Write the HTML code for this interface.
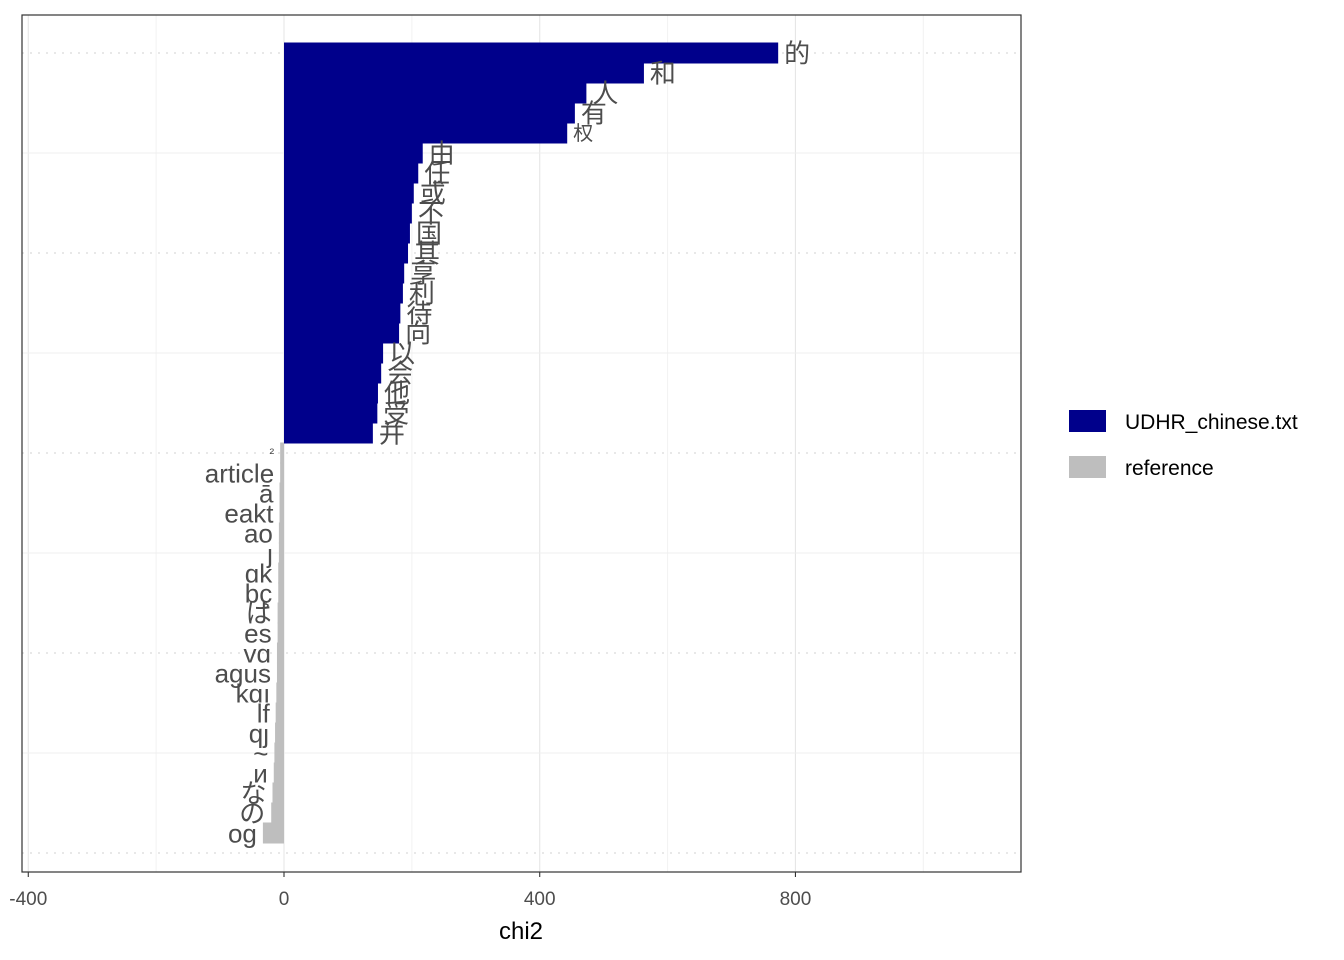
<!DOCTYPE html>
<html><head><meta charset="utf-8">
<style>
html,body{margin:0;padding:0;background:#fff;}
svg{display:block;font-family:"Liberation Sans","Noto Sans CJK SC",sans-serif;}
</style></head>
<body>
<svg id="chart" width="1344" height="960"></svg>
<script>
const targetLabels=["的","和","人","有","权","由","任","或","不","国","其","享","利","待","向","以","会","他","受","并"];
const targetValues=[773,563,473,455,443,217,210,203,200,197,194,188,186,182,180,155,152,147,146,139];
const targetSizes=[26,26,26,26,20,26,26,26,26,26,26,26,26,26,26,26,26,26,26,26];
const refLabels=["²","article","ā","eakt","ao","ȷ","ɑk","bç","は","es","vɑ","agus","kɑı","lf","qȷ","~","и","な","の","og"];
const refValues=[-6,-6,-7,-7,-8,-8,-9,-9,-10,-10,-11,-11,-12,-13,-14,-15,-16,-18,-20,-33];
const refSizes=[14,26,26,26,26,26,26,26,26,26,26,26,26,26,26,26,26,26,26,26];
const xTicks=[-400,0,400,800];
const xMinor=[-200,200,600,1000];

const NS="http://www.w3.org/2000/svg";
const svg=document.getElementById('chart');
const P={l:22,r:1021,t:15,b:872};
const x=v=>284+v*0.6393;
const y=pos=>853-pos*20; // pos 0..40, row1 at pos 40
function mk(t,a,p){const e=document.createElementNS(NS,t);for(const k in a)e.setAttribute(k,a[k]);(p||svg).appendChild(e);return e;}

// grid
xMinor.forEach(v=>{const l=mk('line',{x1:x(v),x2:x(v),y1:P.t,y2:P.b,stroke:'#f2f2f2','stroke-width':1});

});
xTicks.forEach(v=>{const l=mk('line',{x1:x(v),x2:x(v),y1:P.t,y2:P.b,stroke:'#e6e6e6','stroke-width':1.1});

});
for(let p=5;p<=35;p+=10){const l=mk('line',{x1:P.l,x2:P.r,y1:y(p),y2:y(p),stroke:'#efefef','stroke-width':1});

}
for(let p=0;p<=40;p+=10){const l=mk('line',{x1:P.l,x2:P.r,y1:y(p),y2:y(p),stroke:'#e0e0e0','stroke-width':1.5,'stroke-dasharray':'2,6'});

}

// bars
function bars(vals,labs,sizes,start,color,kind){
 vals.forEach((v,i)=>{
  const pos=40-(start+i);
  const cy=y(pos);
  const x0=Math.min(x(0),x(v)),x1=Math.max(x(0),x(v));
  const r=mk('rect',{x:x0,y:cy-10.5,width:x1-x0,height:21,fill:color});
  
  
  const t=mk('text',{x:v>=0?x(v)+6:x(v)-6,y:cy+sizes[i]*0.36,'font-size':sizes[i],fill:'#4d4d4d','text-anchor':v>=0?'start':'end'});
  t.textContent=labs[i];
  
  
 });
}
bars(targetValues,targetLabels,targetSizes,0,'#00008B','target');
bars(refValues,refLabels,refSizes,20,'#BEBEBE','reference');

// panel border
const bd=mk('rect',{x:P.l,y:P.t,width:P.r-P.l,height:P.b-P.t,fill:'none',stroke:'#333','stroke-width':1.2});



// x ticks
xTicks.forEach(v=>{
 const l=mk('line',{x1:x(v),x2:x(v),y1:P.b,y2:P.b+5,stroke:'#333','stroke-width':1.1});
 
 
 const t=mk('text',{x:x(v),y:905,'font-size':19,fill:'#4d4d4d','text-anchor':'middle'});
 t.textContent=String(v);
 
 
});
const xt=mk('text',{x:521,y:939,'font-size':24,fill:'#000','text-anchor':'middle'});
xt.textContent='chi2';



// legend
[['UDHR_chinese.txt','#00008B',410],['reference','#BEBEBE',456]].forEach(([lab,c,yy])=>{
 const r=mk('rect',{x:1069,y:yy,width:37,height:22,fill:c});
 
 
 const t=mk('text',{x:1125,y:yy+19,'font-size':21,fill:'#000'});
 t.textContent=lab;
 
 
});
</script>
</body></html>
